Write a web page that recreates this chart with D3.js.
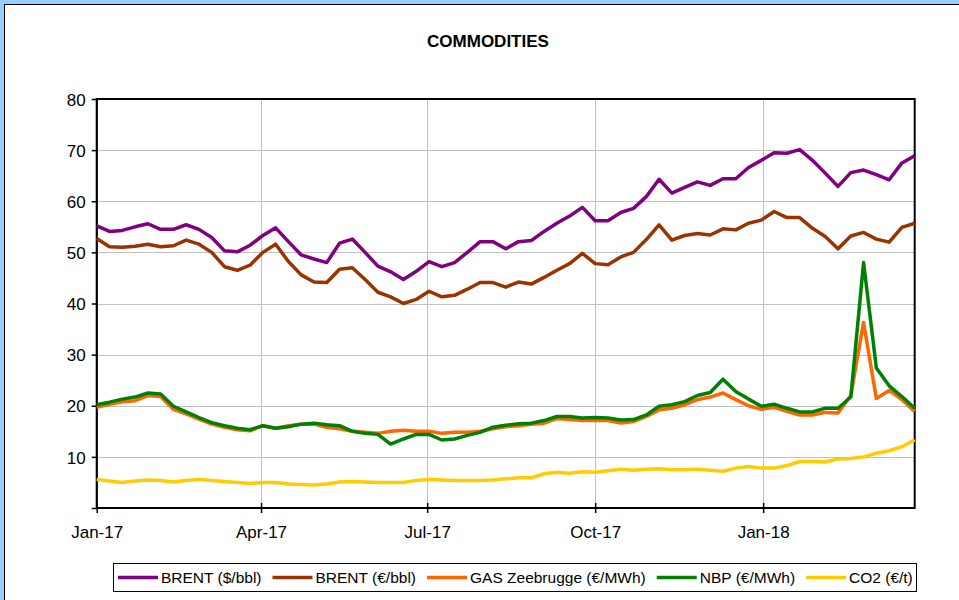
<!DOCTYPE html>
<html lang="en">
<head>
    <meta charset="UTF-8">
    <title>Commodities</title>
    <script src="https://cdn.jsdelivr.net/npm/d3@7/dist/d3.min.js"></script>
    <style>
        html, body {
            margin: 0;
            padding: 0;
            background: #99ccff;
            overflow: hidden;
        }

        svg {
            display: block;
            font-family: "Liberation Sans", Arial, sans-serif;
        }

        svg .grid line {
            stroke: #c0c0c0;
            stroke-width: 1;
        }

        svg .axis text {
            font-size: 17px;
            fill: #000;
        }

        svg .axis path,
        svg .axis line {
            stroke: #000;
        }

        svg .series {
            fill: none;
            stroke-width: 3.5;
            stroke-linejoin: round;
        }
    </style>
</head>
<body>
    <svg width="959" height="600"></svg>
<script>

    var seriesNames = ['BRENT ($/bbl)', 'BRENT (€/bbl)', 'GAS Zeebrugge (€/MWh)', 'NBP (€/MWh)', 'CO2 (€/t)'];
    var seriesColors = ['#800080', '#993300', '#ff6600', '#008000', '#ffcc00'];

    var firstWeek = new Date(2017, 0, 1),
        weekCount = 65;

    var yTicks = [0, 10, 20, 30, 40, 50, 60, 70, 80];

    var brentUsd = [55.2, 54.1, 54.3, 55.0, 55.6, 54.5, 54.5, 55.4, 54.5, 52.9,
                    50.3, 50.1, 51.4, 53.3, 54.8, 52.1, 49.5, 48.7, 48.0, 51.8,
                    52.6, 50.0, 47.3, 46.2, 44.7, 46.3, 48.2, 47.2, 48.0, 50.0,
                    52.1, 52.1, 50.7, 52.1, 52.3, 54.1, 55.7, 57.1, 58.8, 56.2,
                    56.2, 57.8, 58.6, 60.9, 64.3, 61.6, 62.7, 63.8, 63.1, 64.4,
                    64.4, 66.6, 68.0, 69.5, 69.4, 70.1, 68.0, 65.5, 62.9, 65.6,
                    66.1, 65.2, 64.2, 67.5, 68.9];

    var brentEur = [52.7, 51.1, 51.0, 51.2, 51.6, 51.1, 51.3, 52.4, 51.6, 50.0,
                    47.2, 46.5, 47.5, 50.0, 51.6, 48.2, 45.6, 44.2, 44.1, 46.7,
                    47.0, 44.7, 42.2, 41.3, 40.0, 40.8, 42.4, 41.3, 41.6, 42.8,
                    44.1, 44.1, 43.2, 44.2, 43.8, 45.1, 46.5, 47.8, 49.8, 47.8,
                    47.6, 49.1, 50.0, 52.5, 55.4, 52.4, 53.3, 53.7, 53.4, 54.6,
                    54.4, 55.7, 56.3, 58.0, 56.8, 56.8, 54.7, 53.1, 50.7, 53.2,
                    53.9, 52.6, 52.0, 54.9, 55.7];

    var gasZee = [19.7, 20.3, 20.8, 21.0, 22.0, 21.8, 19.3, 18.4, 17.4, 16.4,
                  15.8, 15.3, 15.1, 16.1, 15.6, 16.1, 16.4, 16.4, 15.8, 15.5,
                  15.0, 14.8, 14.6, 15.0, 15.2, 15.0, 15.0, 14.6, 14.8, 14.8,
                  15.0, 15.5, 15.9, 16.1, 16.4, 16.6, 17.5, 17.3, 17.1, 17.1,
                  17.1, 16.6, 16.9, 17.9, 19.2, 19.5, 20.2, 21.2, 21.7, 22.5,
                  21.2, 20.0, 19.3, 19.7, 18.9, 18.2, 18.2, 18.7, 18.6, 22.0,
                  36.3, 21.4, 23.0, 21.2, 18.9];

    var nbp = [20.2, 20.7, 21.3, 21.7, 22.5, 22.3, 19.9, 18.8, 17.7, 16.7,
               16.1, 15.6, 15.3, 16.1, 15.6, 15.9, 16.4, 16.6, 16.3, 16.1,
               15.0, 14.6, 14.4, 12.5, 13.5, 14.4, 14.4, 13.3, 13.5, 14.2,
               14.8, 15.8, 16.2, 16.5, 16.6, 17.1, 17.9, 17.9, 17.6, 17.7,
               17.6, 17.2, 17.3, 18.2, 19.9, 20.2, 20.8, 22.0, 22.6, 25.2,
               22.8, 21.3, 19.9, 20.3, 19.5, 18.8, 18.8, 19.5, 19.5, 21.7,
               48.0, 27.4, 23.9, 21.8, 19.5];

    var co2 = [5.6, 5.3, 5.0, 5.3, 5.5, 5.4, 5.1, 5.4, 5.6, 5.4,
               5.2, 5.0, 4.8, 5.0, 5.0, 4.7, 4.6, 4.5, 4.7, 5.1,
               5.2, 5.1, 5.0, 5.0, 5.0, 5.4, 5.6, 5.5, 5.4, 5.4,
               5.4, 5.5, 5.7, 5.9, 5.9, 6.7, 7.0, 6.8, 7.1, 7.0,
               7.3, 7.6, 7.4, 7.6, 7.7, 7.5, 7.5, 7.6, 7.4, 7.2,
               7.8, 8.1, 7.8, 7.8, 8.3, 9.1, 9.1, 9.0, 9.6, 9.7,
               10.0, 10.7, 11.2, 12.0, 13.3];

    var seriesValues = [brentUsd, brentEur, gasZee, nbp, co2];

    var weeks = d3.range(weekCount).map(function(i) {
        return d3.timeDay.offset(firstWeek, i * 7);
    });

    var svg = d3.select('svg'),
        plot = { left: 96.7, right: 914.7, top: 99, bottom: 508 };

    var xScale = d3.scaleTime()
                    .domain([weeks[0], weeks[weeks.length - 1]])
                    .range([plot.left, plot.right]);
    var yScale = d3.scaleLinear()
                    .domain([0, 80])
                    .range([plot.bottom, plot.top]);

    var xTicks = d3.timeMonth.every(3).range(weeks[0], weeks[weeks.length - 1]);

    // frame
    svg.append('rect')
        .attr('x', 4.5)
        .attr('y', 4.5)
        .attr('width', 1000)
        .attr('height', 700)
        .style('fill', '#fff')
        .style('stroke', '#000')
        .style('stroke-width', 1);

    svg.append('text')
        .attr('x', 488)
        .attr('y', 47)
        .attr('text-anchor', 'middle')
        .style('font-size', '17px')
        .style('font-weight', 'bold')
        .text('COMMODITIES');

    var grid = svg.append('g').classed('grid', true);

    grid.selectAll('.h-line')
        .data(yTicks.slice(1, -1))
        .enter()
        .append('line')
        .classed('h-line', true)
        .attr('x1', plot.left)
        .attr('x2', plot.right)
        .attr('y1', function(d) { return Math.round(yScale(d)) + 0.5; })
        .attr('y2', function(d) { return Math.round(yScale(d)) + 0.5; });

    grid.selectAll('.v-line')
        .data(xTicks.slice(1))
        .enter()
        .append('line')
        .classed('v-line', true)
        .attr('x1', function(d) { return Math.round(xScale(d)) + 0.5; })
        .attr('x2', function(d) { return Math.round(xScale(d)) + 0.5; })
        .attr('y1', plot.top)
        .attr('y2', plot.bottom);

    var xAxis = d3.axisBottom(xScale)
                    .tickValues(xTicks)
                    .tickFormat(d3.timeFormat('%b-%y'))
                    .tickSizeInner(5)
                    .tickSizeOuter(0)
                    .tickPadding(13);

    var yAxis = d3.axisLeft(yScale)
                    .tickValues(yTicks)
                    .tickFormat(function(d) { return d === 0 ? '' : d; })
                    .tickSizeInner(5)
                    .tickSizeOuter(0)
                    .tickPadding(6);

    var xAxisG = svg.append('g')
                    .classed('axis x-axis', true)
                    .attr('transform', 'translate(0,' + plot.bottom + ')')
                    .call(xAxis);
    xAxisG.selectAll('.tick line').attr('y1', -5).style('stroke-width', 1.5);

    var yAxisG = svg.append('g')
                    .classed('axis y-axis', true)
                    .attr('transform', 'translate(' + plot.left + ',0)')
                    .call(yAxis);
    yAxisG.selectAll('.tick line').style('stroke-width', 1.5);
    yAxisG.selectAll('.tick text').attr('dy', '0.36em');

    // plot border
    svg.append('rect')
        .attr('x', plot.left)
        .attr('y', plot.top)
        .attr('width', plot.right - plot.left)
        .attr('height', plot.bottom - plot.top)
        .style('fill', 'none')
        .style('stroke', '#000')
        .style('stroke-width', 2);

    var lineGene = d3.line()
                        .x(function(d, i) { return xScale(weeks[i]); })
                        .y(function(d) { return yScale(d); });

    svg.append('g')
        .selectAll('.series')
        .data(seriesValues)
        .enter()
        .append('path')
        .classed('series', true)
        .attr('d', function(d) { return lineGene(d); })
        .style('stroke', function(d, i) { return seriesColors[i]; });

    // legend
    var legend = svg.append('g').classed('legend', true);

    legend.append('rect')
        .attr('x', 113.5)
        .attr('y', 563.5)
        .attr('width', 803)
        .attr('height', 28)
        .style('fill', '#fff')
        .style('stroke', '#000')
        .style('stroke-width', 1);

    var legendX = 118,
        legendY = 577.5;

    seriesNames.forEach(function(name, i) {
        legend.append('line')
            .attr('x1', legendX)
            .attr('x2', legendX + 40)
            .attr('y1', legendY)
            .attr('y2', legendY)
            .style('stroke', seriesColors[i])
            .style('stroke-width', 3.5);

        var label = legend.append('text')
                        .attr('x', legendX + 43)
                        .attr('y', legendY)
                        .attr('dy', '0.35em')
                        .style('font-size', '15.5px')
                        .text(name);

        legendX += 43 + label.node().getComputedTextLength() + 11;
    });

</script>
</body>
</html>
